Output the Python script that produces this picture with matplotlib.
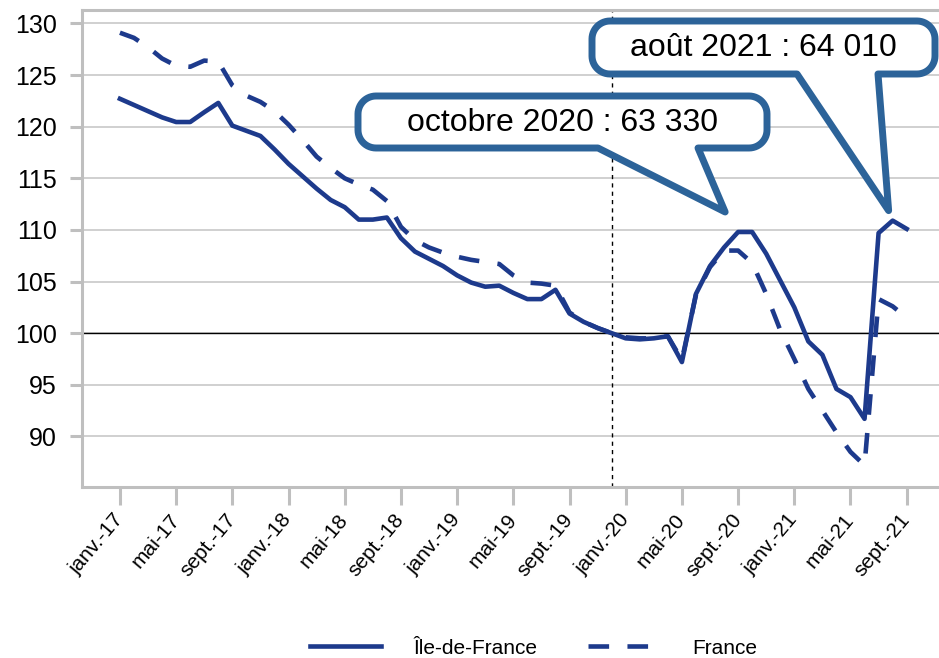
import numpy as np
import matplotlib
matplotlib.use("Agg")
import matplotlib.pyplot as plt
from matplotlib.patches import Polygon
from matplotlib.lines import Line2D
from matplotlib.transforms import IdentityTransform

plt.rcParams["font.family"] = ["Liberation Sans", "DejaVu Sans"]

# monthly index, janv. 2017 -> sept. 2021 (base 100 = déc. 2019)
months = ["janv.", "févr.", "mars", "avr.", "mai", "juin",
          "juil.", "août", "sept.", "oct.", "nov.", "déc."]
years = [17, 18, 19, 20, 21]

idf = [122.7, 122.1, 121.5, 120.9, 120.45, 120.45, 121.4, 122.3, 120.1, 119.6,
       119.1, 117.8, 116.4, 115.2, 114.0, 112.9, 112.2, 111.0, 111.0, 111.2,
       109.2, 107.9, 107.2, 106.5, 105.6, 104.9, 104.5, 104.6, 103.9, 103.3,
       103.3, 104.2, 101.9, 101.1, 100.5, 100.0, 99.5, 99.4, 99.5, 99.7,
       97.2, 103.8, 106.5, 108.3, 109.8, 109.8, 107.7, 105.1, 102.5, 99.2,
       97.9, 94.6, 93.8, 91.7, 109.7, 110.9, 110.1]

france = [129.1, 128.6, 127.7, 126.6, 125.9, 125.8, 126.4, 126.3, 124.0, 123.0,
          122.4, 121.5, 120.2, 118.7, 117.1, 116.0, 115.0, 114.4, 113.9, 112.8,
          110.3, 109.0, 108.3, 107.8, 107.4, 107.1, 106.9, 106.7, 105.6, 104.9,
          104.8, 104.6, 102.0, 101.1, 100.5, 100.0, 99.6, 99.5, 99.5, 99.7,
          97.4, 103.7, 106.4, 108.0, 108.0, 106.8, 103.8, 100.3, 97.5, 94.6,
          92.5, 90.4, 88.5, 87.2, 103.3, 102.6, 101.5]

base_idx = 35            # déc. 2019
callouts = [  # (index, label)
    (45, "octobre 2020 : 63 330"),
    (55, "août 2021 : 64 010"),
]

W, H = 939, 658
LINE = "#1D3A8C"
CALL = "#2C6399"
GREY = "#BFBFBF"
LW = 3.3
DASH = (4.5, 4)

x = np.arange(len(idf))
labels = [f"{months[i % 12]}-{years[i // 12]}" for i in x]

fig = plt.figure(figsize=(W / 100, H / 100), dpi=100)
ax = fig.add_axes([82 / W, 1 - 487 / H, (W - 82) / W, (487 - 10) / H])

ax.plot(x, idf, color=LINE, lw=LW, zorder=4)
ax.plot(x, france, color=LINE, lw=LW, dashes=DASH, zorder=3)

ax.axhline(100, color="black", lw=1, zorder=2)
ax.axvline(base_idx, color="black", lw=1, dashes=(3, 3), zorder=2)

ax.set_xlim(-2.7, 58.3)
ax.set_ylim(85.1, 131.3)
ax.set_yticks(np.arange(90, 131, 5))
ax.set_xticks(x[::4])
ax.set_xticklabels(labels[::4], rotation=50, ha="right", va="center",
                   rotation_mode="anchor", fontsize=15)
ax.tick_params(axis="y", labelsize=18, length=9, width=2.2, color=GREY, pad=9)
ax.tick_params(axis="x", length=13, width=2.2, color=GREY, pad=8)
ax.grid(axis="y", color="#C8C8C8", lw=1.2)
ax.set_axisbelow(True)
for s in ["left", "bottom", "top"]:
    ax.spines[s].set_color(GREY)
    ax.spines[s].set_linewidth(2.2)
ax.spines["right"].set_visible(False)


# ── speech-bubble callouts (pixel layout, tip follows the data point) ─────────
def bubble(left, top, right, bottom, base_l, base_r, tip, r=18):
    def arc(cx, cy, a0, a1):
        t = np.radians(np.linspace(a0, a1, 14))
        return list(zip(cx + r * np.cos(t), cy + r * np.sin(t)))
    pts = []
    pts += arc(left + r, top + r, 180, 270)
    pts += arc(right - r, top + r, 270, 360)
    pts += arc(right - r, bottom - r, 0, 90)
    pts += [(base_r, bottom), tip, (base_l, bottom)]
    pts += arc(left + r, bottom - r, 90, 180)
    pts = [(px, H - py) for px, py in pts]
    poly = Polygon(pts, closed=True, facecolor="white", edgecolor=CALL, lw=5,
                   joinstyle="round", transform=IdentityTransform(), zorder=5)
    fig.add_artist(poly)


def data_px(i, v):
    dx, dy = ax.transData.transform((i, v))
    return dx, H - dy


boxes = [  # left, top, right, bottom, base_l, base_r, tip offset
    (358, 96, 767, 148, 598, 698, (-27, -20)),
    (592, 21, 935, 74, 797, 878, (-4, -10)),
]
for (i, text), (l, t, r_, b, bl, br, off) in zip(callouts, boxes):
    px, py = data_px(i, idf[i])
    bubble(l, t, r_, b, bl, br, (px + off[0], py + off[1]))
    fig.text((l + r_) / 2 / W, 1 - ((t + b) / 2 + 1) / H, text, fontsize=23,
             ha="center", va="center", zorder=6)

# ── legend ────────────────────────────────────────────────────────────────────
handles = [Line2D([], [], color=LINE, lw=LW),
           Line2D([], [], color=LINE, lw=LW, dashes=DASH)]
fig.legend(handles, ["Île-de-France", "France"], loc="center",
           bbox_to_anchor=(0.568, 1 - 648 / H), ncol=2, frameon=False,
           fontsize=15, handlelength=3.4, handletextpad=1.6, columnspacing=2.4)

fig.savefig("out.png", dpi=100)
